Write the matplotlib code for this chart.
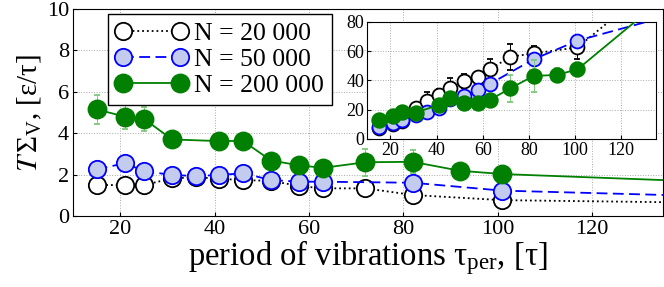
import matplotlib
matplotlib.use("Agg")
import matplotlib.pyplot as plt

plt.rcParams['font.family'] = ['Liberation Serif', 'DejaVu Serif']
plt.rcParams['mathtext.fontset'] = 'stix'

# main panel: T*Sigma_V vs period
tau_k = [15, 21, 25, 31, 36, 41, 46, 52, 58, 63, 72, 82, 101, 150]
main_k = [1.50, 1.50, 1.50, 1.82, 1.88, 1.80, 1.74, 1.70, 1.45, 1.34, 1.34, 1.02, 0.77, 0.63]
main_k_err = [0.1, 0.1, 0.1, 0.1, 0.1, 0.1, 0.1, 0.1, 0.1, 0.1, 0.1, 0.1, 0.1, 0.1]

tau_b = [15, 21, 25, 31, 36, 41, 46, 52, 58, 63, 82, 101, 150]
main_b = [2.26, 2.55, 2.18, 1.98, 1.94, 1.98, 2.07, 1.74, 1.66, 1.66, 1.61, 1.23, 0.93]
main_b_err = [0.25, 0.15, 0.1, 0.1, 0.1, 0.1, 0.1, 0.1, 0.1, 0.1, 0.1, 0.1, 0.1]

tau_g = [15, 21, 25, 31, 41, 46, 52, 58, 63, 72, 82, 92, 101, 150]
main_g = [5.15, 4.80, 4.70, 3.70, 3.62, 3.63, 2.68, 2.45, 2.33, 2.60, 2.62, 2.19, 2.03, 1.61]
main_g_err = [0.7, 0.6, 0.58, 0.1, 0.1, 0.1, 0.1, 0.1, 0.1, 0.65, 0.55, 0.1, 0.1, 0.1]

# inset panel
ins_k = [7.3, 10.3, 12.4, 20.9, 26.1, 30.0, 34.6, 39.6, 42.5, 47.5, 56.1, 58.4, 62.5, 126.0]
ins_k_err = [1, 1, 1.5, 3.5, 6, 4, 6.8, 5, 3.5, 7, 9, 5, 8, 5]
ins_b = [8.4, 11.1, 13.0, 16.4, 18.6, 20.9, 27.0, 29.3, 33.4, 37.5, 54.4, 67.1, 88.2]
ins_b_err = [1, 1, 1, 1, 1, 1, 2, 2, 2, 2, 3, 3, 3]
ins_g = [13.0, 15.7, 18.6, 18.0, 23.2, 28.2, 24.8, 24.8, 26.6, 34.6, 43.0, 43.7, 47.5, 111.5]
ins_g_err = [1, 1, 1, 1, 1, 1, 1, 1, 1, 9.4, 10.8, 4.6, 2, 2]

labels = ['N = 20 000', 'N = 50 000', 'N = 200 000']

fig = plt.figure(figsize=(6.64, 2.87), dpi=100)
ax = fig.add_axes([0.110, 0.247, 0.888, 0.722])


def draw(a, ms, ys_k, ek, ys_b, eb, ys_g, eg):
    h1 = a.errorbar(tau_k, ys_k, yerr=ek, fmt='o', ls=':', color='black', mfc='white',
                    mec='black', ms=ms, mew=1.3, lw=1.3, ecolor='black', elinewidth=0.7,
                    capsize=2.5, zorder=2)
    h2 = a.errorbar(tau_b, ys_b, yerr=eb, fmt='o', ls=(0, (6, 3)), color='blue', mfc='#c3cbee',
                    mec='blue', ms=ms, mew=1.3, lw=1.3, ecolor='blue', elinewidth=0.7,
                    capsize=2.5, zorder=3)
    h3 = a.errorbar(tau_g, ys_g, yerr=eg, fmt='o', ls='-', color='green', mfc='green',
                    mec='green', ms=ms + 0.5, mew=1.3, lw=1.3, ecolor='#7cc87c', elinewidth=0.7,
                    capsize=2.5, zorder=4)
    a.grid(True, color='#aaaaaa', ls=':', lw=0.7)
    a.set_axisbelow(True)
    a.tick_params(direction='in', length=3, top=False, right=False)
    return h1, h2, h3


h = draw(ax, 12.5, main_k, main_k_err, main_b, main_b_err, main_g, main_g_err)
ax.set_xlim(10, 135)
ax.set_ylim(0, 10)
ax.set_xticks([20, 40, 60, 80, 100, 120])
ax.set_yticks([0, 2, 4, 6, 8, 10])
ax.tick_params(labelsize=16, pad=3)
ax.set_xlabel(r'period of vibrations $\mathregular{\tau_{per}}$, [$\mathregular{\tau}$]',
              fontsize=23.5, labelpad=-1)
ax.set_ylabel(r'$T\,\mathregular{\Sigma_{V}}$, [$\mathregular{\varepsilon/\tau}$]',
              fontsize=21, labelpad=2)

ax.legend([x[0] for x in h], labels, loc='upper left', numpoints=2, fontsize=18.5,
          bbox_to_anchor=(108 / 664, 1 - 14 / 287), bbox_transform=fig.transFigure,
          borderaxespad=0, fancybox=False, framealpha=1, edgecolor='black',
          handlelength=2.8, handletextpad=0.25, labelspacing=0.12, borderpad=0.3)

ins = fig.add_axes([0.553, 0.516, 0.435, 0.408])
draw(ins, 10, ins_k, ins_k_err, ins_b, ins_b_err, ins_g, ins_g_err)
ins.set_xlim(10, 135)
ins.set_ylim(0, 80)
ins.set_xticks([20, 40, 60, 80, 100, 120])
ins.set_yticks([0, 20, 40, 60, 80])
ins.tick_params(labelsize=13, pad=2)

fig.savefig('out.png', dpi=100)
